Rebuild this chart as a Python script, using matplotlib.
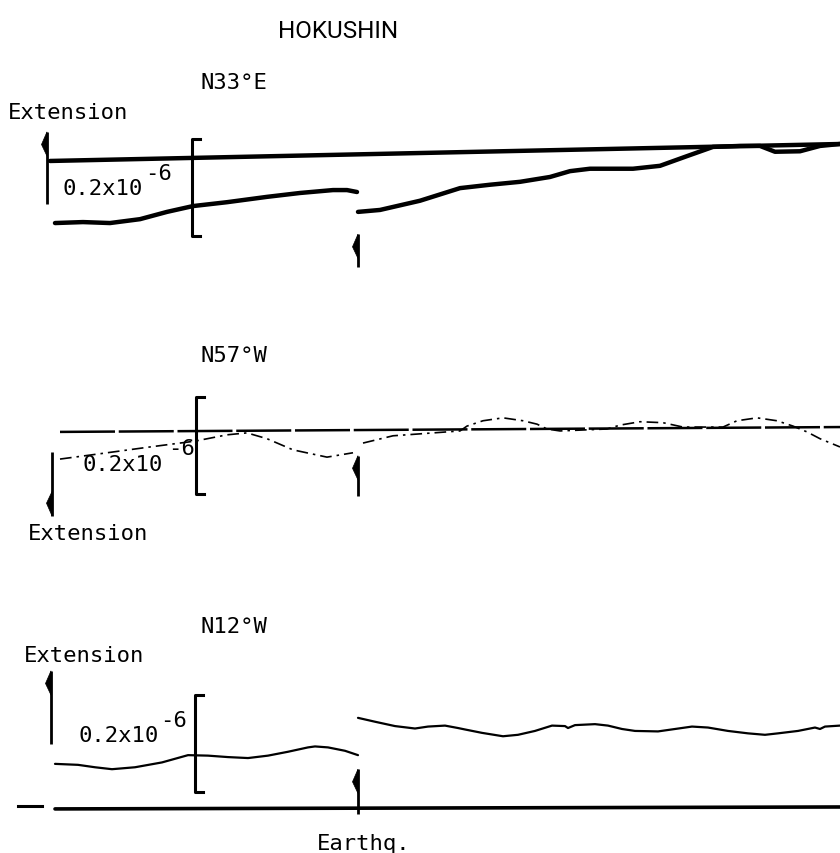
import matplotlib.pyplot as plt

# strain records at Hokushin, three components
# t: hours relative to the earthquake (t = 0), strain in units of 1e-8
T_LEFT, T_RIGHT = -35.8, 48.2
SCALE = 20  # 0.2x10^-6

# N33°E
n33e_ref_t = [-30.8, 48.2]
n33e_ref_y = [0.0, 3.5]
n33e_pre_t = [-30.3, -27.5, -24.8, -21.8, -19.1, -16.5, -13.1, -9.1, -5.8, -2.5, -1.1, -0.1]
n33e_pre_y = [-12.8, -12.6, -12.8, -12.0, -10.5, -9.3, -8.5, -7.4, -6.6, -6.0, -6.0, -6.4]
n33e_post_t = [0.0, 2.2, 6.2, 10.2, 13.2, 16.2, 19.2, 21.2, 23.2, 27.5, 30.2, 32.9, 35.5,
               38.2, 40.2, 41.7, 44.2, 46.2, 48.2]
n33e_post_y = [-10.5, -10.1, -8.2, -5.6, -4.9, -4.3, -3.3, -2.1, -1.6, -1.6, -1.0, 1.0, 2.9,
               3.1, 3.1, 1.9, 2.0, 3.1, 3.5]

# N57°W
n57w_ref_t = [-29.8, 48.2]
n57w_ref_y = [0.0, 1.0]
n57w_pre_t = [-29.8, -25.8, -20.8, -16.3, -13.1, -11.1, -9.1, -6.5, -3.1, -0.5]
n57w_pre_y = [-5.6, -4.5, -3.1, -1.9, -0.6, -0.2, -1.4, -3.7, -5.2, -4.3]
n57w_post_t = [0.5, 3.5, 6.2, 10.2, 10.9, 12.5, 14.5, 16.5, 17.9, 18.9, 20.2, 24.9, 26.2,
               28.2, 30.5, 32.5, 36.5, 37.9, 39.9, 41.9, 43.5, 44.9, 46.2, 48.2]
n57w_post_y = [-2.3, -0.8, -0.4, 0.2, 1.2, 2.3, 2.9, 2.3, 1.6, 0.6, 0.2, 0.6, 1.4,
               2.1, 1.9, 1.0, 1.0, 2.3, 2.9, 2.3, 1.2, 0.0, -1.4, -3.1]

# N12°W
n12w_ref_t = [-30.3, 48.2]
n12w_ref_y = [0.0, 0.4]
n12w_pre_t = [-30.3, -28.0, -26.3, -24.6, -22.3, -19.6, -17.0, -15.0, -13.0, -11.0, -9.0,
              -7.0, -5.0, -4.3, -3.0, -1.3, 0.0]
n12w_pre_y = [9.3, 9.1, 8.6, 8.2, 8.6, 9.6, 11.1, 11.0, 10.7, 10.5, 11.0,
              11.8, 12.7, 12.9, 12.7, 12.0, 11.1]
n12w_post_t = [0.0, 1.7, 3.7, 5.7, 7.0, 8.7, 10.0, 10.7, 12.4, 14.5, 16.0, 17.7, 19.4,
               20.7, 21.0, 21.7, 23.7, 25.0, 26.4, 27.7, 30.0, 31.7, 33.4, 35.0, 37.0,
               39.0, 40.7, 42.0, 44.0, 45.7, 46.2, 46.7, 48.2]
n12w_post_y = [18.8, 18.0, 17.1, 16.6, 17.0, 17.2, 16.7, 16.4, 15.7, 15.0, 15.3, 16.1, 17.2,
               17.1, 16.7, 17.3, 17.5, 17.2, 16.5, 16.1, 16.0, 16.5, 17.0, 16.8, 16.1,
               15.6, 15.3, 15.6, 16.1, 16.8, 16.5, 17.0, 17.2]

MONO = 'DejaVu Sans Mono'
FS = 16

fig = plt.figure(figsize=(8.4, 8.54), dpi=100)
fig.patch.set_facecolor('white')


def band(top, bottom):
    return [0, 1 - bottom / 854, 1, (bottom - top) / 854]


def trace(ax, t, y, lw, ls='-'):
    ax.plot(t, y, color='black', lw=lw, linestyle=ls,
            solid_joinstyle='round', solid_capstyle='round')


def half_arrow(ax, t, y0, y1, lw=2):
    # hand drawn style arrow, barb on the left side only
    d = 1 if y1 > y0 else -1
    ax.plot([t, t], [y0, y1], color='black', lw=lw, solid_capstyle='butt')
    ax.fill([t, t - 0.55, t], [y1, y1 - d * 2.6, y1 - d * 5.0], color='black', lw=0.5)


def bracket(ax, t, y0, y1):
    ax.plot([t + 0.8, t, t, t + 0.8], [y0, y0, y1, y1], color='black', lw=2.2)


def label(px, py, s, **kw):
    kw.setdefault('family', MONO)
    kw.setdefault('fontsize', FS)
    fig.text(px / 840, 1 - py / 854, s, va='baseline', ha='left', **kw)


# --- N33°E ---
ax1 = fig.add_axes(band(40, 290))
trace(ax1, n33e_ref_t, n33e_ref_y, 3.2)
trace(ax1, n33e_pre_t, n33e_pre_y, 3.2)
trace(ax1, n33e_post_t, n33e_post_y, 3.2)
bracket(ax1, -16.6, -15.5, -15.5 + SCALE)
half_arrow(ax1, -31.1, -8.9, 6.0)
half_arrow(ax1, 0.0, -21.9, -15.1)
ax1.set_ylim(-26.4, 25.15)

# --- N57°W ---
ax2 = fig.add_axes(band(300, 560))
ax2.plot(n57w_ref_t, n57w_ref_y, color='black', lw=1.8, linestyle=(0, (22, 1.5)))
ax2.plot(n57w_pre_t, n57w_pre_y, color='black', lw=1.2, linestyle=(0, (7, 3, 1.5, 3)))
ax2.plot(n57w_post_t, n57w_post_y, color='black', lw=1.2, linestyle=(0, (7, 3, 1.5, 3)))
bracket(ax2, -16.2, -12.8, -12.8 + SCALE)
half_arrow(ax2, -30.6, -4.1, -17.3)
half_arrow(ax2, 0.0, -13.2, -4.9)
ax2.set_ylim(-26.2, 27.4)

# --- N12°W ---
ax3 = fig.add_axes(band(590, 854))
trace(ax3, n12w_ref_t, n12w_ref_y, 2.6)
ax3.plot([-34.0, -31.6], [0.6, 0.6], color='black', lw=2.2)
trace(ax3, n12w_pre_t, n12w_pre_y, 1.6)
trace(ax3, n12w_post_t, n12w_post_y, 1.6)
bracket(ax3, -16.3, 3.5, 3.5 + SCALE)
half_arrow(ax3, -30.7, 13.4, 28.5)
half_arrow(ax3, 0.0, -1.0, 8.2)
ax3.set_ylim(-9.1, 45.4)

for ax in (ax1, ax2, ax3):
    ax.set_xlim(T_LEFT, T_RIGHT)
    ax.set_axis_off()

# texts
fig.text(338 / 840, 1 - 38 / 854, 'HOKUSHIN', ha='center', va='baseline',
         family=['Roboto', 'DejaVu Sans'], fontsize=17.5)
label(200, 89, 'N33°E')
label(8, 119, 'Extension')
label(63, 195, '0.2x10')
label(145, 180, '-6')

label(200, 362, 'N57°W')
label(82, 471, '0.2x10')
label(168, 455, '-6')
label(28, 540, 'Extension')

label(200, 633, 'N12°W')
label(24, 662, 'Extension')
label(78, 742, '0.2x10')
label(160, 727, '-6')
label(317, 850, 'Earthq.')

fig.savefig('out.png', dpi=100, facecolor='white')
